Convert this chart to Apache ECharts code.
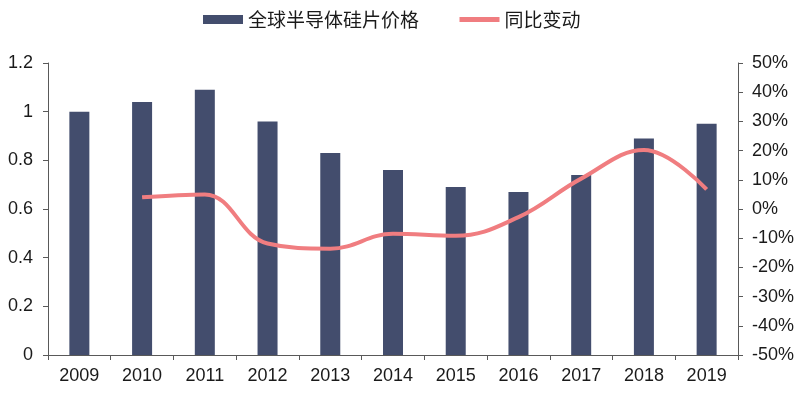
<!DOCTYPE html>
<html><head><meta charset="utf-8">
<script src="https://cdn.jsdelivr.net/npm/echarts@6/dist/echarts.min.js"></script>
<style>html,body{margin:0;padding:0;background:#fff}#c{width:800px;height:393px}</style>
</head><body><div id="c"></div>
<script>
const years = ['2009','2010','2011','2012','2013','2014','2015','2016','2017','2018','2019'];
const price = [1.00, 1.04, 1.09, 0.96, 0.83, 0.76, 0.69, 0.67, 0.74, 0.89, 0.95];
const yoy = [null, 4.0, 5.0, -11.8, -13.6, -8.5, -9.2, -2.8, 10.4, 20.2, 6.7];
const leftTicks = {min: 0, max: 1.2, interval: 0.2};
const rightTicks = {min: -50, max: 50, interval: 10};

const font = '"Liberation Sans", Arial, sans-serif';
const cjk = '"Noto Sans CJK SC", sans-serif';
const axisColor = '#595959';
const textColor = '#1a1a1a';
const chart = echarts.init(document.getElementById('c'));
chart.setOption({
  animation: false,
  legend: {
    top: 5, left: 198, itemGap: 38, itemWidth: 40, itemHeight: 9,
    textStyle: {fontFamily: cjk, fontSize: 19, color: textColor},
    lineStyle: {width: 5},
    data: [
      {name: '全球半导体硅片价格', icon: 'rect'},
      {name: '同比变动', itemStyle: {opacity: 0}}
    ]
  },
  grid: {left: 48, right: 62, top: 63, bottom: 38},
  xAxis: {
    type: 'category', data: years,
    axisLine: {lineStyle: {color: axisColor}},
    axisTick: {show: true, length: 5, alignWithLabel: false, lineStyle: {color: axisColor}},
    axisLabel: {fontFamily: font, fontSize: 18, color: textColor, margin: 12}
  },
  yAxis: [
    {
      type: 'value', min: leftTicks.min, max: leftTicks.max, interval: leftTicks.interval,
      splitLine: {show: false},
      axisLine: {show: true, lineStyle: {color: axisColor}},
      axisTick: {show: true, length: 5, lineStyle: {color: axisColor}},
      axisLabel: {fontFamily: font, fontSize: 18, color: textColor, margin: 15,
        formatter: v => String(Math.round(v * 10) / 10)}
    },
    {
      type: 'value', min: rightTicks.min, max: rightTicks.max, interval: rightTicks.interval,
      splitLine: {show: false},
      axisLine: {show: true, lineStyle: {color: axisColor}},
      axisTick: {show: true, length: 5, lineStyle: {color: axisColor}},
      axisLabel: {fontFamily: font, fontSize: 18, color: textColor, margin: 14,
        formatter: v => v + '%'}
    }
  ],
  series: [
    {
      name: '全球半导体硅片价格', type: 'bar', data: price, barWidth: 20,
      itemStyle: {color: '#434D6D'}
    },
    {
      name: '同比变动', type: 'line', yAxisIndex: 1, data: yoy, smooth: 0.4,
      symbol: 'none', connectNulls: false,
      lineStyle: {color: '#F07D80', width: 4},
      itemStyle: {color: '#F07D80'}
    }
  ]
});
</script></body></html>
